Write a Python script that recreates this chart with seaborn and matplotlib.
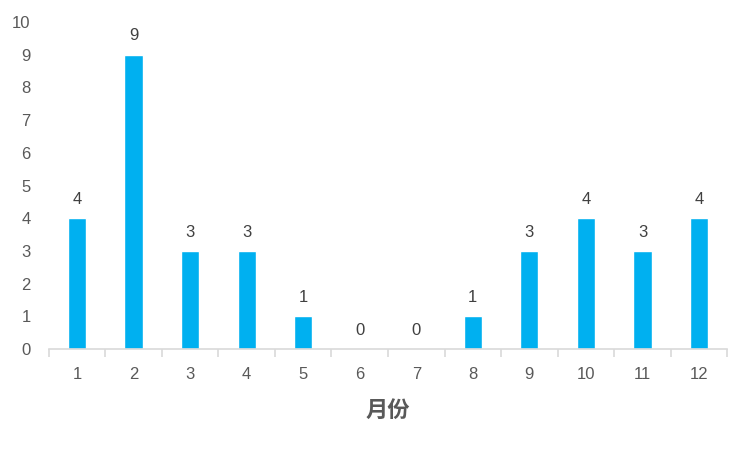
import matplotlib
matplotlib.use("Agg")
import matplotlib.pyplot as plt
import seaborn as sns
import pandas as pd

months = ["1", "2", "3", "4", "5", "6", "7", "8", "9", "10", "11", "12"]
counts = [4, 9, 3, 3, 1, 0, 0, 1, 3, 4, 3, 4]

sns.set_style("white")
plt.rcParams['font.family'] = ['Liberation Sans', 'Noto Sans CJK SC', 'DejaVu Sans']

df = pd.DataFrame({"月份": months, "count": counts})

fig = plt.figure(figsize=(7.49, 4.5), dpi=100)
ax = fig.add_axes([0.065, 0.224, 0.906, 0.727])
sns.barplot(data=df, x="月份", y="count", color="#00B0F0", width=0.32,
            saturation=1, ax=ax)

ax.set_ylim(0, 10)
ax.set_yticks(range(0, 11))
ax.set_xlim(-0.5, len(months) - 0.5)

for i, v in enumerate(counts):
    ax.text(i, v + 0.35, str(v), ha='center', va='bottom', fontsize=12, color='#404040')

for s in ['top', 'right', 'left']:
    ax.spines[s].set_visible(False)
ax.spines['bottom'].set_color('#D9D9D9')
ax.spines['bottom'].set_linewidth(1.2)

ax.tick_params(axis='y', length=0, labelsize=12, labelcolor='#595959', pad=13)
ax.tick_params(axis='x', length=0, labelsize=12, labelcolor='#595959', pad=13)
ax.set_xticks([i - 0.5 for i in range(len(months) + 1)], minor=True)
ax.tick_params(axis='x', which='minor', bottom=True, length=6, color='#D9D9D9', width=1.2)

ax.set_ylabel("")
ax.set_xlabel("月份", fontsize=16, color='#595959', fontweight='bold',
              family=['Noto Sans CJK SC'], labelpad=12)

fig.savefig("out.png", dpi=100)
